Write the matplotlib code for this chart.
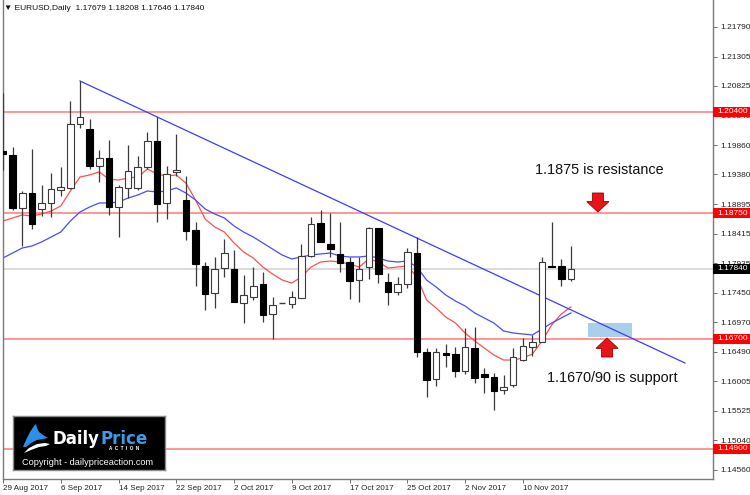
import matplotlib
matplotlib.use("Agg")
import matplotlib.pyplot as plt
from matplotlib.patches import Rectangle, FancyArrow, Polygon

plt.rcParams['font.family'] = ['Liberation Sans', 'DejaVu Sans']

# EURUSD daily candles, 29 Aug 2017 - 17 Nov 2017
opens = [1.19763, 1.19698, 1.18833, 1.19078, 1.18817, 1.18915, 1.19127, 1.19160, 1.20204, 1.20123,
         1.19519, 1.19649, 1.18850, 1.19160, 1.19160, 1.19502, 1.19927, 1.18915, 1.19421, 1.18964,
         1.18474, 1.17887, 1.17446, 1.17854, 1.17838, 1.17283, 1.17381, 1.17593, 1.17103, 1.17283,
         1.17266, 1.17364, 1.18050, 1.18588, 1.18246, 1.18083, 1.17952, 1.17658, 1.17870, 1.18507,
         1.17626, 1.17462, 1.17593, 1.18099, 1.16483, 1.16042, 1.16467, 1.16450, 1.16173, 1.16548,
         1.16124, 1.16075, 1.15863, 1.15944, 1.16352, 1.16565, 1.16646, 1.17887, 1.17887, 1.17679]
highs = [1.20710, 1.19829, 1.19111, 1.19796, 1.19209, 1.19405, 1.19502, 1.20580, 1.20906, 1.20286,
         1.19780, 1.19943, 1.19209, 1.19862, 1.19682, 1.20074, 1.20318, 1.19519, 1.20041, 1.19356,
         1.18605, 1.17952, 1.18034, 1.18327, 1.18148, 1.17740, 1.17870, 1.17789, 1.17381, 1.17283,
         1.17479, 1.18246, 1.18686, 1.18801, 1.18752, 1.18605, 1.18034, 1.18034, 1.18523, 1.18507,
         1.17772, 1.17707, 1.18180, 1.18360, 1.16548, 1.16548, 1.16614, 1.16565, 1.16875, 1.16891,
         1.16222, 1.16140, 1.16108, 1.16548, 1.16712, 1.16761, 1.18034, 1.18605, 1.18001, 1.18208]
lows = [1.19453, 1.18801, 1.18213, 1.18490, 1.18703, 1.18686, 1.19029, 1.19143, 1.20139, 1.19470,
        1.19258, 1.18719, 1.18360, 1.18996, 1.19127, 1.19470, 1.18605, 1.18654, 1.19356, 1.18311,
        1.17560, 1.17169, 1.17201, 1.17707, 1.17299, 1.16956, 1.17332, 1.16973, 1.16695, 1.17283,
        1.17201, 1.17364, 1.18034, 1.18278, 1.18034, 1.17789, 1.17348, 1.17299, 1.17674, 1.17609,
        1.17250, 1.17413, 1.17528, 1.16401, 1.15749, 1.15928, 1.16238, 1.16075, 1.16124, 1.15977,
        1.15814, 1.15536, 1.15798, 1.15912, 1.16336, 1.16418, 1.16646, 1.17870, 1.17560, 1.17646]
closes = [1.19715, 1.18833, 1.19078, 1.18572, 1.18915, 1.19143, 1.19176, 1.20204, 1.20318, 1.19519,
          1.19649, 1.18850, 1.19176, 1.19437, 1.19502, 1.19927, 1.18899, 1.19388, 1.19453, 1.18458,
          1.17919, 1.17430, 1.17838, 1.18099, 1.17299, 1.17413, 1.17560, 1.17087, 1.17250, 1.17283,
          1.17381, 1.18050, 1.18572, 1.18278, 1.18164, 1.17936, 1.17642, 1.17838, 1.18507, 1.17756,
          1.17462, 1.17593, 1.18115, 1.16483, 1.16026, 1.16483, 1.16434, 1.16173, 1.16565, 1.16059,
          1.16075, 1.15847, 1.15912, 1.16401, 1.16581, 1.16646, 1.17952, 1.17870, 1.17674, 1.17840]

# moving averages (red = fast, blue = slow)
ma_fast = [1.18621, 1.18670, 1.18719, 1.18703, 1.18735, 1.18784, 1.18866, 1.19111, 1.19339, 1.19372,
           1.19421, 1.19306, 1.19290, 1.19323, 1.19339, 1.19470, 1.19388, 1.19356, 1.19372, 1.19241,
           1.18964, 1.18654, 1.18523, 1.18441, 1.18262, 1.18115, 1.18017, 1.17870, 1.17756, 1.17658,
           1.17609, 1.17707, 1.17870, 1.17952, 1.17968, 1.17952, 1.17919, 1.17870, 1.18001, 1.17952,
           1.17854, 1.17870, 1.17887, 1.17707, 1.17332, 1.17201, 1.17054, 1.16956, 1.16793, 1.16663,
           1.16548, 1.16434, 1.16352, 1.16352, 1.16385, 1.16450, 1.16663, 1.16924, 1.17103, 1.17218]
ma_slow = [1.18017, 1.18099, 1.18180, 1.18213, 1.18278, 1.18360, 1.18441, 1.18621, 1.18768, 1.18850,
           1.18915, 1.18915, 1.18931, 1.18996, 1.19045, 1.19111, 1.19094, 1.19111, 1.19160, 1.19078,
           1.18964, 1.18817, 1.18735, 1.18670, 1.18540, 1.18441, 1.18360, 1.18262, 1.18164, 1.18066,
           1.18001, 1.18034, 1.18066, 1.18083, 1.18099, 1.18050, 1.18034, 1.18034, 1.18050, 1.18017,
           1.17968, 1.17952, 1.17968, 1.17870, 1.17658, 1.17544, 1.17413, 1.17315, 1.17234, 1.17120,
           1.17038, 1.16956, 1.16826, 1.16793, 1.16777, 1.16761, 1.16858, 1.16956, 1.17038, 1.17120]

date_labels = ["29 Aug 2017", "6 Sep 2017", "14 Sep 2017", "22 Sep 2017", "2 Oct 2017",
               "9 Oct 2017", "17 Oct 2017", "25 Oct 2017", "2 Nov 2017", "10 Nov 2017"]
date_bars = [0, 6, 12, 18, 24, 30, 36, 42, 48, 54]

price_ticks = [1.21790, 1.21305, 1.20825, 1.20345, 1.19860, 1.19380, 1.18895, 1.18415,
               1.17935, 1.17450, 1.16970, 1.16490, 1.16005, 1.15525, 1.15040, 1.14560]
levels = [1.20400, 1.18750, 1.16700, 1.14900]
last_price = 1.17840

trend_x = [8, 70.85]
trend_y = [1.20906, 1.16303]
zone_x = [60.8, 65.3]
zone_y = [1.16728, 1.16956]

fig = plt.figure(figsize=(7.5, 4.95), dpi=100)
ax = fig.add_axes([3 / 750, 16 / 495, 710 / 750, 479 / 495])
ax.set_xlim(0.03, 73.76)
ax.set_ylim(1.14410, 1.22228)

# horizontal levels + current price line
for lvl in levels:
    ax.axhline(lvl, color='#ff8c8c', lw=1.3, zorder=1)
ax.axhline(last_price, color='#d8d8d8', lw=1.3, zorder=1)

# support zone
ax.add_patch(Rectangle((zone_x[0], zone_y[0]), zone_x[1] - zone_x[0], zone_y[1] - zone_y[0],
                       fc='#a9cfea', ec='none', zorder=1.5))

# moving averages
xs = list(range(len(closes)))
ax.plot(xs, ma_fast, color='#ff5050', lw=0.9, zorder=2)
ax.plot(xs, ma_slow, color='#4a4aff', lw=0.9, zorder=2)

# candles
w = 0.68
for i in xs:
    o, h, l, c = opens[i], highs[i], lows[i], closes[i]
    ax.vlines(i, l, h, color='#3a3a3a', lw=0.9, zorder=3)
    bull = c >= o
    lo_b, hi_b = min(o, c), max(o, c)
    if hi_b - lo_b < 0.00004:
        ax.hlines(o, i - w / 2, i + w / 2, color='#3a3a3a', lw=1.0, zorder=4)
        continue
    ax.add_patch(Rectangle((i - w / 2, lo_b), w, hi_b - lo_b,
                           fc='white' if bull else 'black',
                           ec='#3a3a3a' if bull else 'black', lw=0.8, zorder=4))

# trendline
ax.plot(trend_x, trend_y, color='#3c3cff', lw=0.9, zorder=2)

# annotation arrows and text
ax.add_patch(FancyArrow(61.8, 1.19078, 0, 1.18768 - 1.19078, width=1.15, head_width=2.3,
                        head_length=0.0017, length_includes_head=True,
                        fc='#e8131b', ec='#9a0000', lw=0.6, zorder=6))
ax.add_patch(FancyArrow(62.75, 1.16401, 0, 1.16712 - 1.16401, width=1.15, head_width=2.3,
                        head_length=0.0017, length_includes_head=True,
                        fc='#e8131b', ec='#9a0000', lw=0.6, zorder=6))
ax.text(61.9, 1.19453, "1.1875 is resistance", fontsize=10.4, ha='center', va='center', color='#111111')
ax.text(63.3, 1.16059, "1.1670/90 is support", fontsize=10.4, ha='center', va='center', color='#111111')

# axes styling (MT4 look)
for s in ['left', 'right', 'bottom']:
    ax.spines[s].set_color('#7a7a7a')
    ax.spines[s].set_linewidth(1.0)
ax.spines['top'].set_visible(False)
ax.yaxis.tick_right()
ax.set_yticks(price_ticks)
ax.set_yticklabels([f"{t:.5f}" for t in price_ticks])
ax.tick_params(axis='y', length=3, width=0.6, color='#555555', labelsize=6, pad=2, labelcolor='#222222')
ax.set_xticks(date_bars)
ax.set_xticklabels(date_labels)
for lbl in ax.get_xticklabels():
    lbl.set_ha('left')
ax.tick_params(axis='x', length=3, width=0.6, color='#555555', labelsize=5.8, pad=1.5, labelcolor='#222222')

# price tags on the right scale
tag_h = 0.00165
for lvl, col in [(l, '#ff0000') for l in levels] + [(last_price, '#000000')]:
    ax.add_patch(Rectangle((1.0, lvl - tag_h / 2), 37 / 710, tag_h, transform=ax.get_yaxis_transform(),
                           fc=col, ec='none', clip_on=False, zorder=8))
    ax.text(1.0 + 4 / 710, lvl, f"{lvl:.5f}", transform=ax.get_yaxis_transform(), fontsize=6,
            color='white', ha='left', va='center', clip_on=False, zorder=9)

# header
fig.text(4 / 750, 1 - 8 / 495, "\u25bc EURUSD,Daily  1.17679 1.18208 1.17646 1.17840",
         fontsize=6, va='center', ha='left', color='#111111', family=['Liberation Sans', 'DejaVu Sans'])

# logo box
lg = fig.add_axes([13 / 750, 1 - 470 / 495, 152 / 750, 54 / 495])
lg.set_xlim(0, 152)
lg.set_ylim(54, 0)
lg.set_facecolor('black')
lg.set_xticks([])
lg.set_yticks([])
for s in lg.spines.values():
    s.set_color('#8a8a8a')
    s.set_linewidth(1.0)
lg.add_patch(Polygon([(10, 31), (13, 24), (17, 16), (21, 10), (23, 8), (24, 12), (26, 16), (30, 19),
                      (35, 22), (30, 23), (24, 24), (18, 27), (13, 31)], closed=True, fc='#2e8fe6', ec='none'))
lg.add_patch(Polygon([(11, 37), (16, 32), (24, 28), (32, 27), (37, 28), (33, 30), (26, 31), (18, 34)],
                     closed=True, fc='white', ec='none'))
lg.text(87, 23, "Daily", color='white', fontsize=12, fontweight='bold', ha='right', va='center',
        family='DejaVu Sans')
lg.text(87, 23, "Price", color='#3d9be9', fontsize=12, fontweight='bold', ha='left', va='center',
        family='DejaVu Sans')
lg.text(111, 33, "A  C  T  I  O  N", color='white', fontsize=3.3, fontweight='bold', ha='center', va='center')
lg.text(75, 46.5, "Copyright - dailypriceaction.com", color='white', fontsize=6.6, ha='center', va='center')

fig.savefig("out.png", dpi=100)
